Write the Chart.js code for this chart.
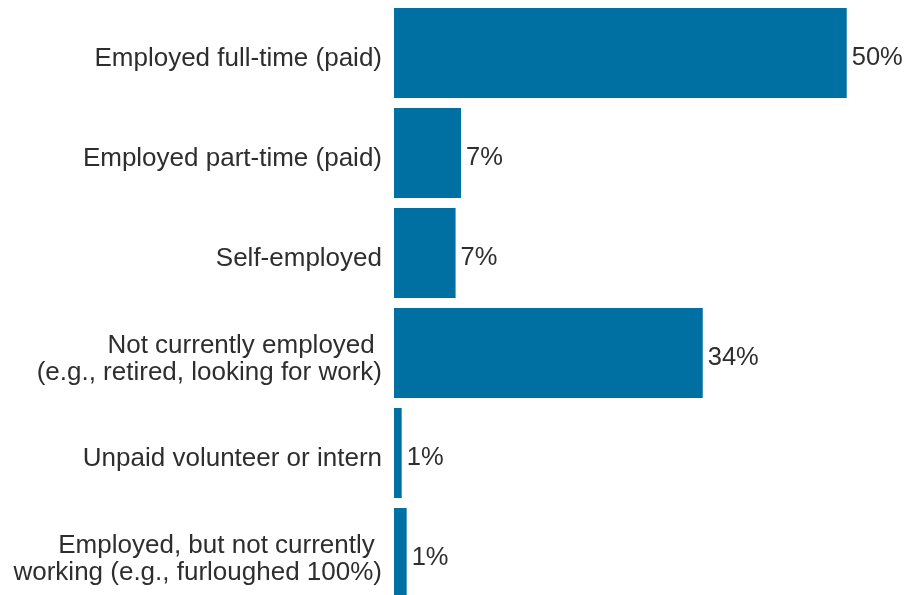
<!DOCTYPE html>
<html>
<head>
<meta charset="utf-8">
<script src="https://cdn.jsdelivr.net/npm/chart.js@4"></script>
<style>
    html, body { margin: 0; padding: 0; background: #fff; }
    #wrap { width: 907px; height: 595px; overflow: hidden; }
</style>
</head>
<body>
<div id="wrap">
    <canvas id="employment-chart" width="907" height="603"></canvas>
</div>
<script>
const categories = [
    'Employed full-time (paid)',
    'Employed part-time (paid)',
    'Self-employed',
    ['Not currently employed ', '(e.g., retired, looking for work)'],
    'Unpaid volunteer or intern',
    ['Employed, but not currently ', 'working (e.g., furloughed 100%)'],
]
const shares = [50, 7.4, 6.8, 34.1, 0.85, 1.4]

const barColor = '#006fa1'
const textColor = '#2e2e2e'
const fontFamily = 'Arial, "Liberation Sans", sans-serif'

// writes the rounded percentage just past the end of each bar
const valueLabels = {
    id: 'valueLabels',
    afterDatasetsDraw(chart) {
        const ctx = chart.ctx
        const meta = chart.getDatasetMeta(0)
        ctx.save()
        ctx.font = '25.5px ' + fontFamily
        ctx.fillStyle = textColor
        ctx.textAlign = 'left'
        ctx.textBaseline = 'middle'
        meta.data.forEach((bar, i) => {
            ctx.fillText(Math.round(shares[i]) + '%', bar.x + 5, bar.y + 5)
        })
        ctx.restore()
    },
}

const employment_chart = () => {
    const ctx = document.getElementById('employment-chart')

    new Chart(ctx, {
        type: 'bar',
        data: {
            labels: categories,
            datasets: [{
                data: shares,
                backgroundColor: barColor,
                borderWidth: 0,
                barPercentage: 1,
                categoryPercentage: 0.9,
            }],
        },
        options: {
            indexAxis: 'y',
            responsive: false,
            animation: false,
            layout: {
                padding: { top: 3, right: 15, bottom: 0, left: 0 },
            },
            plugins: {
                legend: { display: false },
                tooltip: { enabled: false },
            },
            scales: {
                x: {
                    display: false,
                    min: 0,
                    max: 55,
                },
                y: {
                    grid: { display: false, drawTicks: false },
                    border: { display: false },
                    // fixed label column; no extra room above/below for the tick text
                    afterFit: (scale) => {
                        scale.width = 394
                        scale.paddingTop = 0
                        scale.paddingBottom = 0
                    },
                    ticks: {
                        color: textColor,
                        padding: 12,
                        labelOffset: 6,
                        font: { family: fontFamily, size: 26, lineHeight: 1.04 },
                    },
                },
            },
        },
        plugins: [valueLabels],
    })
}

employment_chart()
</script>
</body>
</html>
